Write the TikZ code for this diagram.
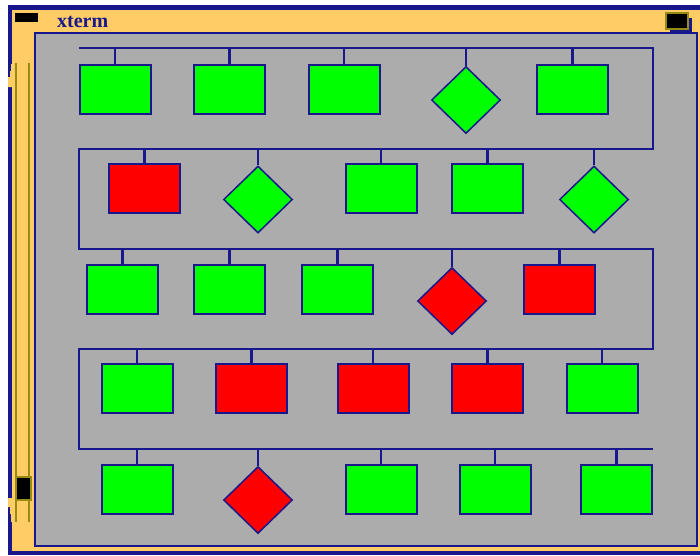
\documentclass[tikz,border=0pt]{standalone}
\usepackage{fontspec}
\setmainfont{Liberation Serif}
\usetikzlibrary{shapes.geometric}
\definecolor{navy}{RGB}{24,24,140}
\definecolor{frameorange}{RGB}{255,204,102}
\definecolor{panelgray}{RGB}{172,172,172}
\definecolor{olive}{RGB}{150,140,20}
\definecolor{okgreen}{RGB}{0,255,0}
\definecolor{badred}{RGB}{255,0,0}
\tikzset{
  box/.style={draw=navy, line width=2pt, rectangle, minimum width=71pt, minimum height=49pt, inner sep=0pt},
  dia/.style={draw=navy, line width=1.5pt, diamond, minimum width=69pt, minimum height=67pt, inner sep=0pt},
  ok/.style={fill=okgreen},
  bad/.style={fill=badred},
  bus/.style={draw=navy, line width=2.2pt},
  stem/.style={draw=navy, line width=2.2pt},
}
\begin{document}
\begin{tikzpicture}[x=1pt,y=-1pt]
\useasboundingbox (0,0) rectangle (700,555);
\fill[white] (0,0) rectangle (700,555);
% window frame
\fill[navy] (8,5) rectangle (700,555);
\fill[frameorange] (12,10) rectangle (700,551);
% left notches
\fill[frameorange] (12,64) -- (11,64) -- (11,71) -- (10,71) -- (10,77) -- (8,77) -- (8,87) -- (12,87) -- cycle;
\fill[frameorange] (8,498) -- (12,498) -- (12,522) -- (11,522) -- (11,514) -- (10,514) -- (10,507) -- (8,507) -- cycle;
% scrollbar
\draw[olive, line width=2pt] (15.5,63) -- (15.5,522);
\draw[olive, line width=2pt] (29,63) -- (29,522);
\filldraw[fill=black, draw=olive, line width=1.2pt] (16,477) rectangle (31,500);
% title bar
\fill[black] (15,13) rectangle (38,22);
\node[anchor=base west, text=navy, font=\fontsize{20}{20}\selectfont\bfseries, inner sep=0pt] (title) at (57,27) {xterm};
% panel
\filldraw[fill=panelgray, draw=navy, line width=2pt] (35,33) rectangle (697,546);
% top-right button
\fill[navy] (670,18) rectangle (692,33);
\filldraw[fill=black, draw=olive, line width=1.2pt] (666,13) rectangle (688,29);

% bus
\coordinate (b1) at (79,48);
\coordinate (b2) at (79,149);
\coordinate (b3) at (79,249);
\coordinate (b4) at (79,349);
\coordinate (b5) at (79,449);
\coordinate (e1) at (653,48);
\coordinate (e2) at (653,149);
\coordinate (e3) at (653,249);
\coordinate (e4) at (653,349);
\coordinate (e5) at (653,449);
\draw[bus] (b1) -- (e1) -- (e2) -- (b2) -- (b3) -- (e3) -- (e4) -- (b4) -- (b5) -- (e5);

% row 1
\node[box,ok] (n11) at (115,89) {};
\node[box,ok] (n12) at (229.5,89) {};
\node[box,ok] (n13) at (344,89) {};
\node[dia,ok] (n14) at (466,100) {};
\node[box,ok] (n15) at (572.5,89) {};
% row 2
\node[box,bad] (n21) at (144.5,188.5) {};
\node[dia,ok] (n22) at (258,199.5) {};
\node[box,ok] (n23) at (381,188.5) {};
\node[box,ok] (n24) at (487.5,188.5) {};
\node[dia,ok] (n25) at (594,199.5) {};
% row 3
\node[box,ok] (n31) at (122.5,289) {};
\node[box,ok] (n32) at (229.5,289) {};
\node[box,ok] (n33) at (337.5,289) {};
\node[dia,bad] (n34) at (452,301) {};
\node[box,bad] (n35) at (559.5,289) {};
% row 4
\node[box,ok] (n41) at (137,388.5) {};
\node[box,bad] (n42) at (251.5,388.5) {};
\node[box,bad] (n43) at (373,388.5) {};
\node[box,bad] (n44) at (487.5,388.5) {};
\node[box,ok] (n45) at (602,388.5) {};
% row 5
\node[box,ok] (n51) at (137,489.5) {};
\node[dia,bad] (n52) at (258,500) {};
\node[box,ok] (n53) at (381,489.5) {};
\node[box,ok] (n54) at (495,489.5) {};
\node[box,ok] (n55) at (616.5,489.5) {};

% stems
\foreach \n in {n11,n12,n13,n14,n15} \draw[stem] (\n.north) -- (\n.north |- b1);
\foreach \n in {n21,n22,n23,n24,n25} \draw[stem] (\n.north) -- (\n.north |- b2);
\foreach \n in {n31,n32,n33,n34,n35} \draw[stem] (\n.north) -- (\n.north |- b3);
\foreach \n in {n41,n42,n43,n44,n45} \draw[stem] (\n.north) -- (\n.north |- b4);
\foreach \n in {n51,n52,n53,n54,n55} \draw[stem] (\n.north) -- (\n.north |- b5);
\end{tikzpicture}
\end{document}
